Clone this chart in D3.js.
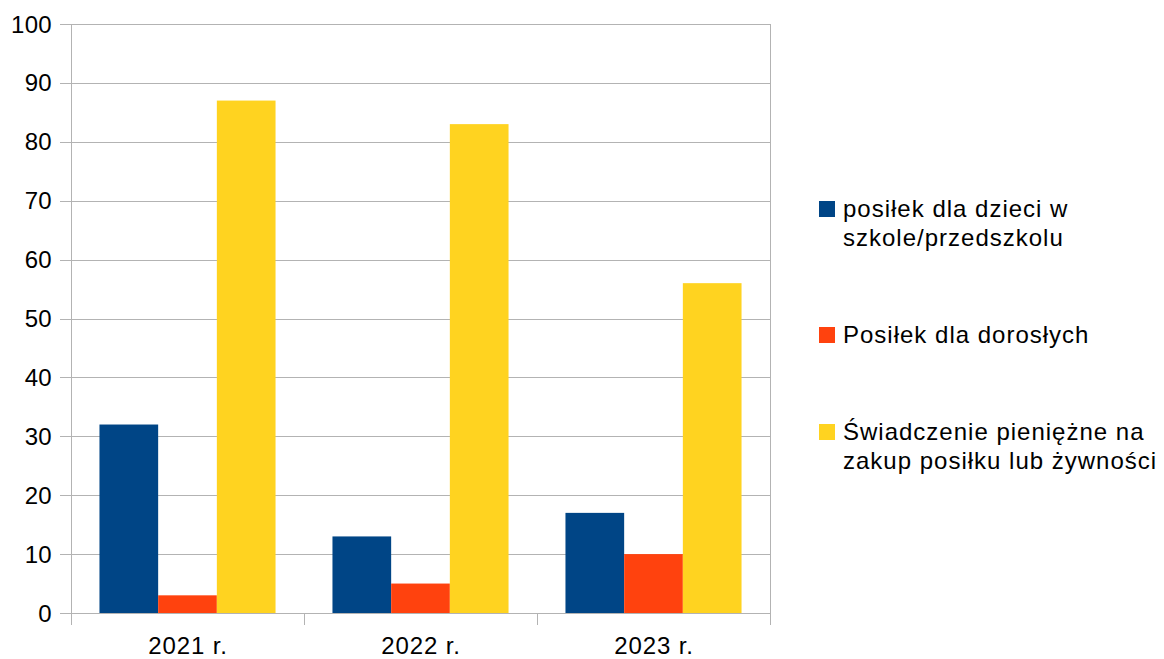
<!DOCTYPE html>
<html>
<head>
<meta charset="utf-8">
<script src="https://cdn.jsdelivr.net/npm/d3@7"></script>
<style>
  body { margin: 0; background: #fff; }
  text { font-family: "Liberation Sans", Arial, sans-serif; fill: #000; }
</style>
</head>
<body>
<div id="chart"></div>
<script>
// data
var years = ["2021 r.", "2022 r.", "2023 r."];
var seriesNames = [
    ["posiłek dla dzieci w", "szkole/przedszkolu"],
    ["Posiłek dla dorosłych"],
    ["Świadczenie pieniężne na", "zakup posiłku lub żywności"]
];
var childMeals = [32, 13, 17];
var adultMeals = [3, 5, 10];
var cashBenefit = [87, 83, 56];
var yTicks = [0, 10, 20, 30, 40, 50, 60, 70, 80, 90, 100];
var colors = ["#004586", "#ff420e", "#ffd320"];

var allSeries = [childMeals, adultMeals, cashBenefit];

var W = 1164, H = 659;
var plot = { left: 71, right: 770, top: 24, bottom: 613 };

var svg = d3.select("#chart").append("svg")
        .attr("width", W)
        .attr("height", H);

var xScale = d3.scaleBand().domain(years).range([plot.left, plot.right]).paddingInner(0).paddingOuter(0);
var xInner = d3.scaleBand().domain([0, 1, 2]).range([0, xScale.bandwidth()]).paddingOuter(0.485).paddingInner(0);
var yScale = d3.scaleLinear().domain([0, 100]).range([plot.bottom, plot.top]);

// gridlines
svg.append("g").selectAll("line")
    .data(yTicks)
    .enter().append("line")
    .attr("x1", plot.left - 11)
    .attr("x2", plot.right)
    .attr("y1", function (d) { return Math.round(yScale(d)) + 0.5; })
    .attr("y2", function (d) { return Math.round(yScale(d)) + 0.5; })
    .attr("stroke", "#b3b3b3")
    .attr("stroke-width", 1);

// bars
var groups = svg.append("g").selectAll("g")
    .data(years)
    .enter().append("g")
    .attr("transform", function (d) { return "translate(" + xScale(d) + ",0)"; });

groups.selectAll("rect")
    .data(function (d, i) { return allSeries.map(function (s, k) { return { k: k, v: s[i] }; }); })
    .enter().append("rect")
    .attr("x", function (d) { return xInner(d.k); })
    .attr("width", xInner.bandwidth())
    .attr("y", function (d) { return yScale(d.v); })
    .attr("height", function (d) { return yScale(0) - yScale(d.v); })
    .attr("fill", function (d) { return colors[d.k]; });

// axes lines
svg.append("line")
    .attr("x1", plot.left + 0.5).attr("x2", plot.left + 0.5)
    .attr("y1", plot.top).attr("y2", plot.bottom + 12)
    .attr("stroke", "#b3b3b3");
svg.append("line")
    .attr("x1", plot.right + 0.5).attr("x2", plot.right + 0.5)
    .attr("y1", plot.top).attr("y2", plot.bottom + 12)
    .attr("stroke", "#b3b3b3");
// x ticks between categories
svg.append("g").selectAll("line")
    .data(years.slice(1))
    .enter().append("line")
    .attr("x1", function (d) { return Math.round(xScale(d)) + 0.5; })
    .attr("x2", function (d) { return Math.round(xScale(d)) + 0.5; })
    .attr("y1", plot.bottom)
    .attr("y2", plot.bottom + 12)
    .attr("stroke", "#b3b3b3");

// y labels
svg.append("g").selectAll("text")
    .data(yTicks)
    .enter().append("text")
    .attr("x", 52)
    .attr("y", function (d) { return yScale(d) + 8.5; })
    .attr("text-anchor", "end")
    .style("font-size", "24px")
    .style("letter-spacing", "0.3px")
    .text(function (d) { return d; });

// x labels
svg.append("g").selectAll("text")
    .data(years)
    .enter().append("text")
    .attr("x", function (d) { return xScale(d) + xScale.bandwidth() / 2 + 0.5; })
    .attr("y", 654)
    .attr("text-anchor", "middle")
    .style("font-size", "24px")
    .style("letter-spacing", "0.9px")
    .text(function (d) { return d; });

// legend
var legendY = [217, 343, 440];
var legend = svg.append("g").selectAll("g")
    .data(seriesNames)
    .enter().append("g");

legend.append("rect")
    .attr("x", 819)
    .attr("y", function (d, i) { return legendY[i] - 16; })
    .attr("width", 16)
    .attr("height", 16)
    .attr("fill", function (d, i) { return colors[i]; });

legend.each(function (d, i) {
    var t = d3.select(this).append("text")
        .attr("x", 843)
        .attr("y", legendY[i])
        .style("font-size", "24px")
        .style("letter-spacing", "1px");
    d.forEach(function (line, j) {
        t.append("tspan").attr("x", 843).attr("dy", j === 0 ? 0 : 29).text(line);
    });
});
</script>
</body>
</html>
